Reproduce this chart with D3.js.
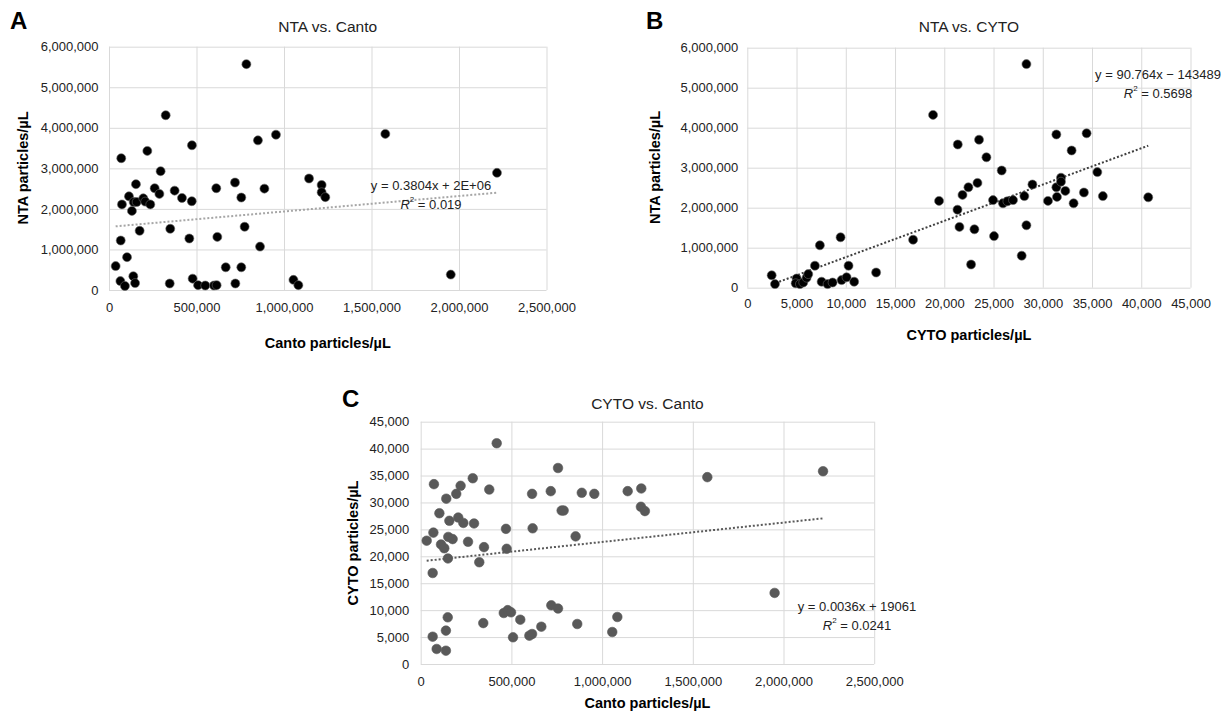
<!DOCTYPE html>
<html>
<head>
<meta charset="utf-8">
<script src="https://cdn.jsdelivr.net/npm/d3@7"></script>
<style>
  body { margin: 0; background: #fff; }
  svg { display: block; font-family: "Liberation Sans", Arial, sans-serif; }
  .tick line { stroke: #d9d9d9; }
  .tick text { fill: #222; font-size: 13px; }
</style>
</head>
<body>
<svg width="1230" height="711"></svg>
<script>
// ---- data ----
// A: NTA vs. Canto  [canto, nta]
const ntaVsCanto = [
  [38000, 590000], [70000, 3250000], [74000, 2110000], [67000, 1220000], [65000, 220000],
  [91000, 100000], [103000, 810000], [114000, 2310000], [131000, 1950000], [141000, 2170000],
  [154000, 2610000], [158000, 2170000], [139000, 340000], [149000, 170000], [175000, 1460000],
  [196000, 2260000], [207000, 2180000], [219000, 3430000], [236000, 2110000], [261000, 2510000],
  [288000, 2370000], [295000, 2930000], [324000, 4310000], [350000, 1510000], [347000, 160000],
  [375000, 2450000], [417000, 2270000], [459000, 1270000], [473000, 2190000], [474000, 3570000],
  [478000, 280000], [509000, 120000], [550000, 110000], [600000, 110000], [615000, 120000],
  [613000, 2510000], [619000, 1310000], [667000, 560000], [720000, 2650000], [722000, 160000],
  [756000, 2280000], [756000, 560000], [775000, 1560000], [785000, 5570000], [851000, 3690000],
  [863000, 1070000], [888000, 2500000], [954000, 3830000], [1054000, 250000], [1082000, 120000],
  [1143000, 2750000], [1215000, 2590000], [1215000, 2410000], [1236000, 2290000], [1579000, 3850000],
  [1953000, 380000], [2217000, 2890000]
];

// B: NTA vs. CYTO  [cyto, nta]
const ntaVsCyto = [
  [2475, 310000], [2810, 90000], [5010, 230000], [4910, 110000], [5345, 90000],
  [5680, 130000], [6020, 250000], [6190, 340000], [6865, 550000], [7370, 1060000],
  [7545, 150000], [8155, 90000], [8660, 130000], [9470, 1260000], [9575, 190000],
  [10080, 260000], [10280, 550000], [10850, 150000], [13080, 380000], [16835, 1200000],
  [18860, 4320000], [19470, 2170000], [21340, 1950000], [21370, 3580000], [21540, 1520000],
  [21850, 2320000], [22450, 2510000], [22720, 580000], [23060, 1460000], [23370, 2620000],
  [23530, 3700000], [24280, 3260000], [24950, 2190000], [25050, 1290000], [25830, 2930000],
  [25960, 2110000], [26410, 2160000], [26980, 2190000], [27860, 800000], [28130, 2290000],
  [28340, 1560000], [28340, 5590000], [28950, 2580000], [30530, 2170000], [31380, 3830000],
  [31380, 2510000], [31440, 2270000], [31850, 2750000], [31850, 2650000], [32290, 2420000],
  [32930, 3430000], [33130, 2110000], [34180, 2380000], [34450, 3860000], [35540, 2890000],
  [36100, 2290000], [40710, 2260000]
];

// C: CYTO vs. Canto  [canto, cyto]
const cytoVsCanto = [
  [33000, 22900], [70000, 24400], [66000, 16900], [73000, 33400], [66000, 5070],
  [88000, 2790], [103000, 28000], [112000, 22200], [130000, 21500], [141000, 30700],
  [139000, 6200], [139000, 2470], [149000, 8670], [150000, 19600], [158000, 26600],
  [152000, 23600], [176000, 23200], [196000, 31600], [207000, 27200], [220000, 33100],
  [235000, 26200], [261000, 22700], [287000, 34500], [294000, 26100], [323000, 18900],
  [345000, 7600], [349000, 21700], [378000, 32400], [419000, 41000], [470000, 25100],
  [474000, 21400], [458000, 9470], [480000, 10000], [498000, 9600], [509000, 4960],
  [549000, 8230], [599000, 5260], [614000, 5570], [614000, 31600], [617000, 25200],
  [665000, 6930], [717000, 32100], [720000, 10900], [757000, 36400], [757000, 10300],
  [777000, 28500], [788000, 28500], [854000, 23700], [863000, 7430], [888000, 31800],
  [957000, 31600], [1056000, 5940], [1084000, 8730], [1141000, 32100], [1216000, 32600],
  [1214000, 29200], [1236000, 28400], [1580000, 34700], [1951000, 13200], [2218000, 35800]
];

// trendline end points (as drawn)
const trendA = [[38000, 1570000], [2217000, 2400000]];
const trendB = [[2475, 80000], [40710, 3550000]];
const trendC = [[33000, 19180], [2218000, 27050]];

// tick values
const cantoTicks = [0, 500000, 1000000, 1500000, 2000000, 2500000];
const ntaTicks = [0, 1000000, 2000000, 3000000, 4000000, 5000000, 6000000];
const cytoTicks = [0, 5000, 10000, 15000, 20000, 25000, 30000, 35000, 40000, 45000];

const svg = d3.select("svg");
svg.append("rect").attr("width", 1230).attr("height", 711).attr("fill", "#fff");

function drawPanel(p) {
  const x = d3.scaleLinear().domain(d3.extent(p.xTicks)).range([p.left, p.right]);
  const y = d3.scaleLinear().domain(d3.extent(p.yTicks)).range([p.bottom, p.top]);
  const fmt = d3.format(",");
  const g = svg.append("g");

  // grid via axes
  g.append("g")
    .attr("transform", `translate(0,${p.bottom})`)
    .call(d3.axisBottom(x).tickValues(p.xTicks).tickFormat(fmt)
      .tickSizeInner(-(p.bottom - p.top)).tickSizeOuter(0).tickPadding(p.xPad))
    .call(a => a.select(".domain").remove());

  g.append("g")
    .attr("transform", `translate(${p.left},0)`)
    .call(d3.axisLeft(y).tickValues(p.yTicks).tickFormat(fmt)
      .tickSizeInner(-(p.right - p.left)).tickSizeOuter(0).tickPadding(p.yPad))
    .call(a => a.select(".domain").remove());

  // trendline
  g.append("path")
    .datum(p.trend)
    .attr("d", d3.line().x(d => x(d[0])).y(d => y(d[1])))
    .attr("fill", "none")
    .attr("stroke", p.trendColor)
    .attr("stroke-width", 2)
    .attr("stroke-dasharray", "2,2");

  // points
  g.append("g").selectAll("circle")
    .data(p.data)
    .enter().append("circle")
    .attr("cx", d => x(d[0]))
    .attr("cy", d => y(d[1]))
    .attr("r", p.r)
    .attr("fill", p.dotColor)
    .attr("stroke", p.dotStroke)
    .attr("stroke-width", 0.6);

  // title
  g.append("text")
    .attr("x", (p.left + p.right) / 2)
    .attr("y", p.titleY)
    .attr("text-anchor", "middle")
    .attr("dominant-baseline", "central")
    .attr("fill", "#222")
    .style("font-size", "15.5px")
    .text(p.title);

  // panel letter
  g.append("text")
    .attr("x", p.letterX)
    .attr("y", p.letterY)
    .attr("fill", "#000")
    .style("font-size", "24px")
    .style("font-weight", "bold")
    .text(p.letter);

  // axis titles
  g.append("text")
    .attr("x", (p.left + p.right) / 2)
    .attr("y", p.xTitleY)
    .attr("text-anchor", "middle")
    .attr("dominant-baseline", "central")
    .attr("fill", "#000")
    .style("font-size", "14.5px")
    .style("font-weight", "bold")
    .text(p.xTitle);

  g.append("text")
    .attr("transform", `translate(${p.yTitleX},${p.yTitleY}) rotate(-90)`)
    .attr("text-anchor", "middle")
    .attr("dominant-baseline", "central")
    .attr("fill", "#000")
    .style("font-size", "14.5px")
    .style("font-weight", "bold")
    .text(p.yTitle);

  // equation
  const eq = g.append("g").attr("fill", "#222").style("font-size", "13px");
  eq.append("text")
    .attr("x", p.eqX).attr("y", p.eqY)
    .attr("text-anchor", "middle")
    .attr("dominant-baseline", "central")
    .text(p.eq);
  const r2 = eq.append("text")
    .attr("x", p.eqX).attr("y", p.eqY + 18.5)
    .attr("text-anchor", "middle")
    .attr("dominant-baseline", "central");
  r2.append("tspan").style("font-style", "italic").text("R");
  r2.append("tspan").attr("dy", -5).style("font-size", "8px").text("2");
  r2.append("tspan").attr("dy", 5).text(" = " + p.r2);
}

drawPanel({
  data: ntaVsCanto, trend: trendA, xTicks: cantoTicks, yTicks: ntaTicks,
  left: 109, right: 546.5, top: 46.7, bottom: 290, xPad: 13, yPad: 10.5,
  title: "NTA vs. Canto", titleY: 26.5, letter: "A", letterX: 10, letterY: 29,
  xTitle: "Canto particles/\u00b5L", xTitleY: 343, yTitle: "NTA particles/\u00b5L", yTitleX: 22.5, yTitleY: 168,
  eq: "y = 0.3804x + 2E+06", r2: "0.019", eqX: 431, eqY: 185,
  trendColor: "#a6a6a6", dotColor: "#000", dotStroke: "#666", r: 4.5
});

drawPanel({
  data: ntaVsCyto, trend: trendB, xTicks: cytoTicks, yTicks: ntaTicks,
  left: 747.3, right: 1190.5, top: 47.7, bottom: 287.7, xPad: 11, yPad: 9,
  title: "NTA vs. CYTO", titleY: 26.5, letter: "B", letterX: 646, letterY: 28.5,
  xTitle: "CYTO particles/\u00b5L", xTitleY: 335, yTitle: "NTA particles/\u00b5L", yTitleX: 655, yTitleY: 167.5,
  eq: "y = 90.764x \u2212 143489", r2: "0.5698", eqX: 1158, eqY: 74,
  trendColor: "#404040", dotColor: "#000", dotStroke: "#666", r: 4.5
});

drawPanel({
  data: cytoVsCanto, trend: trendC, xTicks: cantoTicks, yTicks: cytoTicks,
  left: 420.7, right: 874.2, top: 421.7, bottom: 664, xPad: 12.5, yPad: 11.5,
  title: "CYTO vs. Canto", titleY: 403, letter: "C", letterX: 342, letterY: 406.5,
  xTitle: "Canto particles/\u00b5L", xTitleY: 703, yTitle: "CYTO particles/\u00b5L", yTitleX: 353, yTitleY: 543,
  eq: "y = 0.0036x + 19061", r2: "0.0241", eqX: 857, eqY: 606.5,
  trendColor: "#595959", dotColor: "#595959", dotStroke: "#595959", r: 4.8
});
</script>
</body>
</html>
